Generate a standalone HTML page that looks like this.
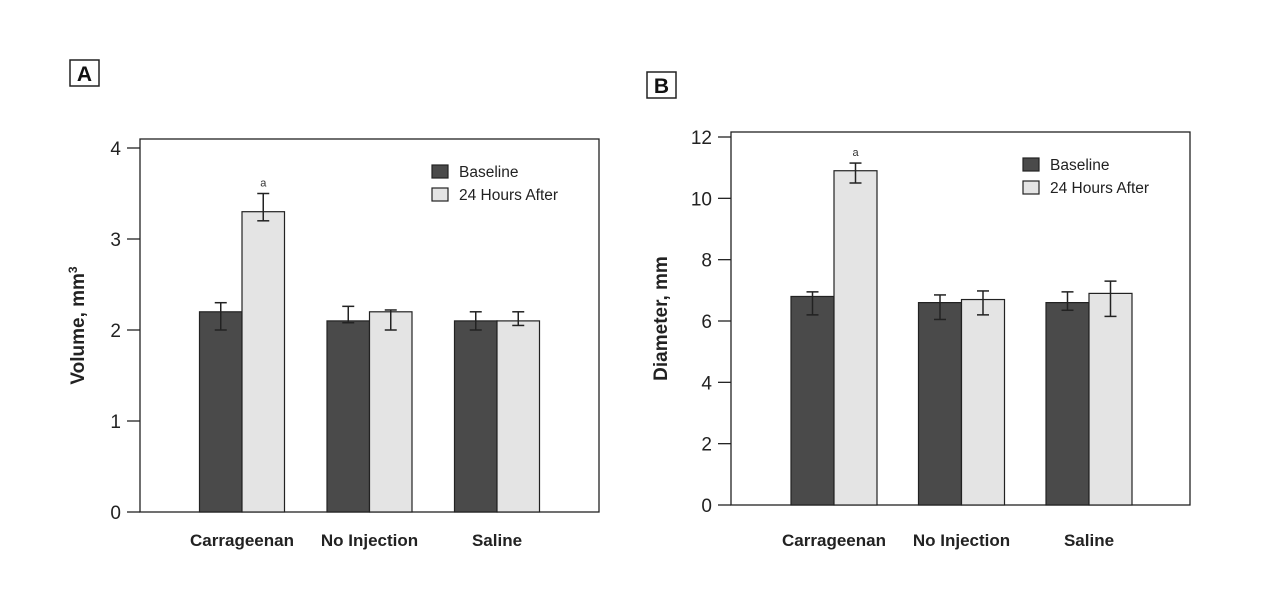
<!DOCTYPE html>
<html><head><meta charset="utf-8"><style>
html,body{margin:0;padding:0;background:#fff;width:1280px;height:609px;overflow:hidden}
svg{display:block;font-family:"Liberation Sans",Arial,sans-serif}
</style></head><body>
<svg id="s" width="1280" height="609"></svg>
<script>
const categories=["Carrageenan","No Injection","Saline"];
const seriesNames=["Baseline","24 Hours After"];
const aBaseline=[2.2,2.1,2.1];
const aBaseLo=[2.0,2.08,2.0];
const aBaseHi=[2.3,2.26,2.2];
const aAfter=[3.3,2.2,2.1];
const aAfterLo=[3.2,2.0,2.05];
const aAfterHi=[3.5,2.22,2.2];
const aTicks=[0,1,2,3,4];
const bBaseline=[6.8,6.6,6.6];
const bBaseLo=[6.2,6.05,6.35];
const bBaseHi=[6.95,6.85,6.95];
const bAfter=[10.9,6.7,6.9];
const bAfterLo=[10.5,6.2,6.15];
const bAfterHi=[11.15,6.98,7.3];
const bTicks=[0,2,4,6,8,10,12];
const NS="http://www.w3.org/2000/svg";
const svg=document.getElementById('s');
function el(t,a,p,txt){const e=document.createElementNS(NS,t);for(const k in a)e.setAttribute(k,a[k]);if(txt!==undefined)e.textContent=txt;(p||svg).appendChild(e);return e;}
function panel(o){
  const g=el('g',{});
  
  
  const y=v=>o.y0-(v-o.min)/(o.max-o.min)*(o.y0-o.yTop);
  const lb=el('rect',{x:o.lx,y:o.ly,width:29,height:26,fill:'#fff',stroke:'#222','stroke-width':1.5},g);
  
  const lt=el('text',{x:o.lx+14.5,y:o.ly+21,'text-anchor':'middle','font-size':21,'font-weight':'bold',fill:'#111'},g,o.id);
  
  const box=el('rect',{x:o.left,y:o.top,width:o.right-o.left,height:o.y0-o.top,fill:'#fff',stroke:'#222','stroke-width':1.3},g);
  
  o.ticks.forEach(t=>{
    const ty=y(t);
    const tl=el('line',{x1:o.tickX,x2:o.left,y1:ty,y2:ty,stroke:'#222','stroke-width':1.3},g);
    
    const tx=el('text',{x:o.tickX-6,y:ty+7,'text-anchor':'end','font-size':19,fill:'#222'},g,t);
    
  });
  const yt=el('text',{x:0,y:0,transform:`translate(${o.titleX},${(o.top+o.y0)/2}) rotate(-90)`,'text-anchor':'middle','font-size':19,'font-weight':'bold',fill:'#222'},g);
  
  if(o.id==='A'){yt.textContent='Volume, mm';el('tspan',{dy:-7,'font-size':12},yt,'3');}
  else yt.textContent='Diameter, mm';
  categories.forEach((c,i)=>{
    const cx=o.firstX+i*o.step;
    const sets=[[o.base[i],o.baseLo[i],o.baseHi[i],'#4a4a4a'],[o.after[i],o.afterLo[i],o.afterHi[i],'#e4e4e4']];
    sets.forEach((s,j)=>{
      const x=cx+(j-1)*o.bw;
      const r=el('rect',{x:x,y:y(s[0]),width:o.bw,height:o.y0-y(s[0]),fill:s[3],stroke:'#222','stroke-width':1.2},g);
      
      
      const mx=x+o.bw/2;
      const eg=el('g',{stroke:'#222','stroke-width':1.5},g);
      
      el('line',{x1:mx,x2:mx,y1:y(s[1]),y2:y(s[2])},eg);
      el('line',{x1:mx-6,x2:mx+6,y1:y(s[1]),y2:y(s[1])},eg);
      el('line',{x1:mx-6,x2:mx+6,y1:y(s[2]),y2:y(s[2])},eg);
      if(i===0&&j===1){const a=el('text',{x:mx,y:y(s[2])-7,'text-anchor':'middle','font-size':11,fill:'#333'},g,'a');
        }
    });
    const cl=el('text',{x:cx,y:o.catY,'text-anchor':'middle','font-size':17,'font-weight':'bold',fill:'#222'},g,c);
    
  });
  seriesNames.forEach((n,j)=>{
    const le=el('g',{},g);
    
    el('rect',{x:o.legX,y:o.legY+j*23,width:16,height:13,fill:j?'#e4e4e4':'#4a4a4a',stroke:'#222','stroke-width':1.2},le);
    el('text',{x:o.legX+27,y:o.legY+j*23+12,'font-size':15.5,fill:'#222'},le,n);
  });
}
panel({id:'A',lx:70,ly:60,left:140,right:599,top:139,y0:512,yTop:148,min:0,max:4,ticks:aTicks,tickX:127,titleX:84,
  firstX:242,step:127.5,bw:42.5,base:aBaseline,baseLo:aBaseLo,baseHi:aBaseHi,after:aAfter,afterLo:aAfterLo,afterHi:aAfterHi,catY:546,legX:432,legY:165});
panel({id:'B',lx:647,ly:72,left:731,right:1190,top:132,y0:505,yTop:137,min:0,max:12,ticks:bTicks,tickX:718,titleX:667,
  firstX:834,step:127.5,bw:43,base:bBaseline,baseLo:bBaseLo,baseHi:bBaseHi,after:bAfter,afterLo:bAfterLo,afterHi:bAfterHi,catY:546,legX:1023,legY:158});
</script>
</body></html>
